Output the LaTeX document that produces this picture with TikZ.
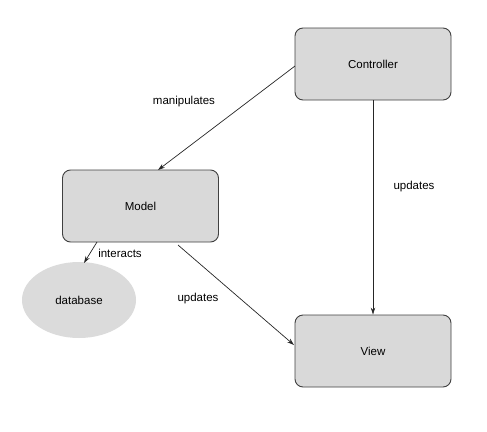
\documentclass[tikz,border=0pt]{standalone}
\usepackage{fontspec}
\setmainfont{Liberation Sans}
\usetikzlibrary{arrows.meta,shapes.geometric}
\begin{document}
\begin{tikzpicture}[x=1pt,y=-1pt,
  box/.style={draw=black!75,fill=black!15,rounded corners=8pt,line width=0.9pt,minimum width=156pt,minimum height=72pt,font=\fontsize{11.5}{13}\selectfont},
  blob/.style={ellipse,fill=black!14,minimum width=114pt,minimum height=76pt,font=\fontsize{11.5}{13}\selectfont},
  conn/.style={draw=black!85,line width=0.7pt,-{Stealth[length=7pt,width=4.5pt]}},
  lbl/.style={font=\fontsize{11.5}{13}\selectfont}]
\useasboundingbox (0,0) rectangle (487,431);
\node[box] (ctrl) at (373,64) {Controller};
\node[box] (model) at (140.5,206) {Model};
\node[box] (view) at (373,351) {View};
\node[blob] (db) at (79,300) {database};
\coordinate (c1) at (295,66);
\coordinate (m1) at (158,170);
\draw[conn] (c1) -- (m1);
\draw[conn] (ctrl.south) -- (view.north);
\coordinate (m2) at (178,245);
\coordinate (v1) at (294,345);
\draw[conn] (m2) -- (v1);
\coordinate (m3) at (97,242);
\coordinate (d1) at (84,263);
\draw[conn] (m3) -- (d1);
\node[lbl] (lman) at (184,102) {manipulates};
\node[lbl] (lup1) at (414,187) {updates};
\node[lbl] (lup2) at (198,299) {updates};
\node[lbl] (lint) at (120,253) {interacts};
\end{tikzpicture}
\end{document}
